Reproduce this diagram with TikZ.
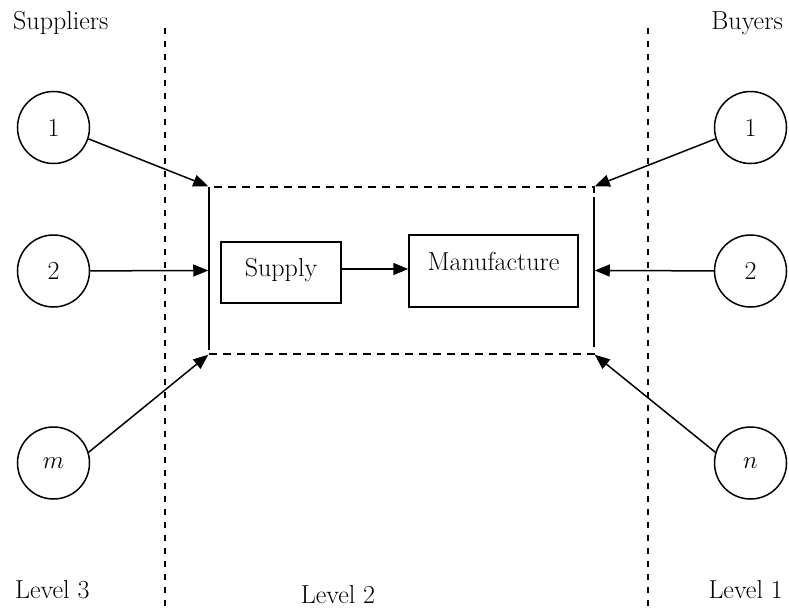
\documentclass[tikz,border=0pt]{standalone}
\usetikzlibrary{arrows.meta}
\begin{document}
\begin{tikzpicture}[x=1pt,y=-1pt,
  every node/.style={font=\fontsize{26}{30}\selectfont},
  party/.style={draw,circle,minimum size=72pt,inner sep=0pt,line width=1.5pt},
  stagebox/.style={draw,line width=1.5pt,inner sep=0pt},
  flow/.style={-{Triangle[length=15pt,width=12pt]},line width=1.5pt},
  divider/.style={line width=1.5pt,dash pattern=on 6pt off 7pt},
  firmedge/.style={line width=1.5pt,dash pattern=on 8pt off 6pt}]
\useasboundingbox (0,0) rectangle (789,610);

% level dividers
\draw[divider] (165,28) -- (165,610);
\draw[divider] (648,28) -- (648,610);

% headings and level names
\node[anchor=base west,inner sep=0pt] (suppliers) at (13,30) {Suppliers};
\node[anchor=base east,inner sep=0pt] (buyers) at (783,30) {Buyers};
\node[anchor=base west,inner sep=0pt] (lvl3) at (15,598) {Level 3};
\node[anchor=base,inner sep=0pt] (lvl2) at (338,603) {Level 2};
\node[anchor=base east,inner sep=0pt] (lvl1) at (783,598) {Level 1};

% suppliers and buyers
\node[party] (s1) at (53.5,127.5) {1};
\node[party] (s2) at (53.5,271) {2};
\node[party] (sm) at (53.5,463) {$m$};
\node[party] (b1) at (750.5,127.5) {1};
\node[party] (b2) at (750.5,271) {2};
\node[party] (bn) at (750.5,463) {$n$};

% the firm boundary: dashed top and bottom, solid sides
\node[firmedge,draw,minimum width=385pt,minimum height=167pt,inner sep=0pt] (firm) at (401.5,270.5) {};
\draw[line width=1.5pt] (209,187) -- (209,350);
\draw[line width=1.5pt] (594,197) -- (594,347);

% internal stages
\node[stagebox,minimum width=120pt,minimum height=61pt,text height=12.4pt,text depth=4pt] (supply) at (281,272.5) {Supply};
\node[stagebox,minimum width=169pt,minimum height=72pt,text height=18pt,text depth=20pt] (manuf) at (493.5,271) {Manufacture};

% flows into the firm
\draw[flow] (s1.-18) -- (firm.north west);
\draw[flow] (s2) -- (firm.west);
\draw[flow] (sm.17) -- (firm.south west);
\draw[flow] (b1.198) -- (firm.north east);
\draw[flow] (b2) -- (firm.east);
\draw[flow] (bn.163) -- (firm.south east);

% flow between the stages
\coordinate (sout) at ([yshift=3.5pt]supply.east);
\draw[flow] (sout) -- (sout -| manuf.west);
\end{tikzpicture}
\end{document}
